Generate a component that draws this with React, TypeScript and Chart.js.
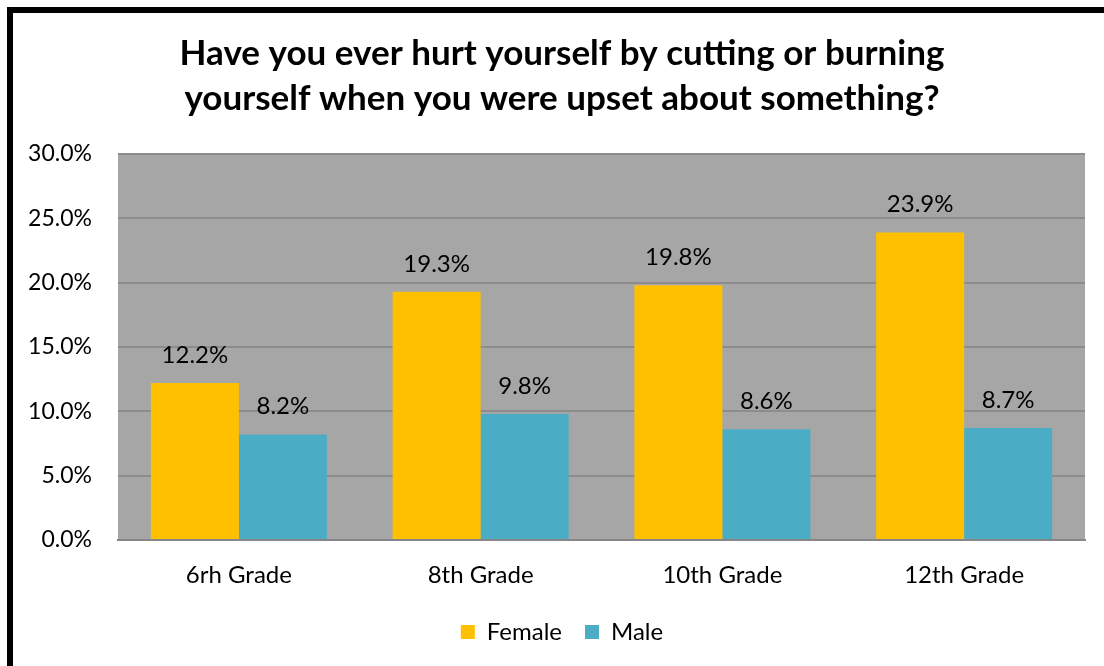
import React, { useEffect, useRef } from "react";
import { Chart, registerables } from "chart.js";

Chart.register(...registerables);

const categories = ["6rh Grade", "8th Grade", "10th Grade", "12th Grade"];
const femaleValues = [12.2, 19.3, 19.8, 23.9];
const maleValues = [8.2, 9.8, 8.6, 8.7];
const seriesNames = ["Female", "Male"];
const titleLines = [
  "Have you ever hurt yourself by cutting or burning",
  "yourself when you were upset about something?",
];

const FONT = "Lato, 'Open Sans', sans-serif";

const bgPlugin = {
  id: "plotBg",
  beforeDraw(chart: any) {
    const { ctx, chartArea } = chart;
    ctx.save();
    ctx.fillStyle = "#a6a6a6";
    ctx.fillRect(chartArea.left, chartArea.top, chartArea.right - chartArea.left, chartArea.bottom - chartArea.top);
    ctx.restore();
  },
};

const labelPlugin = {
  id: "valueLabels",
  afterDatasetsDraw(chart: any) {
    const { ctx } = chart;
    ctx.save();
    ctx.font = `24px ${FONT}`;
    ctx.fillStyle = "#000000";
    ctx.textAlign = "center";
    ctx.textBaseline = "alphabetic";
    chart.data.datasets.forEach((ds: any, i: number) => {
      const meta = chart.getDatasetMeta(i);
      meta.data.forEach((bar: any, j: number) => {
        ctx.fillText(ds.data[j].toFixed(1) + "%", bar.x, bar.y - 20);
      });
    });
    ctx.restore();
  },
};

export default function App() {
  const ref = useRef<HTMLCanvasElement>(null);
  useEffect(() => {
    if (!ref.current) return;
    const chart = new Chart(ref.current, {
      type: "bar",
      data: {
        labels: categories,
        datasets: [
          { label: seriesNames[0], data: femaleValues, backgroundColor: "#FFC000", categoryPercentage: 0.728, barPercentage: 1 },
          { label: seriesNames[1], data: maleValues, backgroundColor: "#4BACC6", categoryPercentage: 0.728, barPercentage: 1 },
        ],
      },
      options: {
        animation: false,
        responsive: false,
        layout: { padding: { left: 0, right: 0, top: 0, bottom: 12 } },
        plugins: {
          title: {
            display: true,
            text: titleLines,
            color: "#000000",
            font: { family: FONT, size: 35, weight: "bold", lineHeight: 45 / 35 },
            padding: { top: 18, bottom: 33 },
          },
          legend: {
            position: "bottom",
            labels: {
              boxWidth: 14,
              boxHeight: 14,
              padding: 23,
              color: "#000000",
              font: { family: FONT, size: 24 },
            },
          },
          tooltip: { enabled: false },
        },
        scales: {
          x: {
            grid: { display: false, drawTicks: false },
            border: { display: true, color: "#868686", width: 2 },
            ticks: { color: "#000000", padding: 21, font: { family: FONT, size: 24 } },
            afterFit: (s: any) => { s.height = 57; },
          },
          y: {
            min: 0,
            max: 30,
            grid: { color: "#8c8c8c", lineWidth: 2, drawTicks: false },
            border: { display: false },
            ticks: {
              stepSize: 5,
              padding: 26,
              color: "#000000",
              font: { family: FONT, size: 23 },
              callback: (v: any) => Number(v).toFixed(1) + "%",
            },
            afterFit: (s: any) => { s.width = 105; },
          },
          ySpacer: {
            type: "linear",
            position: "right",
            min: 0,
            max: 30,
            grid: { display: false, drawTicks: false },
            border: { display: false },
            ticks: { display: false },
            afterFit: (s: any) => { s.width = 26; },
          },
        },
      },
      plugins: [bgPlugin, labelPlugin],
    });
    return () => chart.destroy();
  }, []);

  return (
    <div style={{ position: "fixed", left: 0, top: 0, width: 1104, height: 666, overflow: "hidden", background: "#ffffff" }}>
      <div style={{ position: "absolute", left: 7, top: 7, borderLeft: "6px solid #000", borderTop: "6px solid #000", width: 1200, height: 800 }}>
        <canvas ref={ref} width={1098} height={653} style={{ display: "block" }} />
      </div>
    </div>
  );
}
